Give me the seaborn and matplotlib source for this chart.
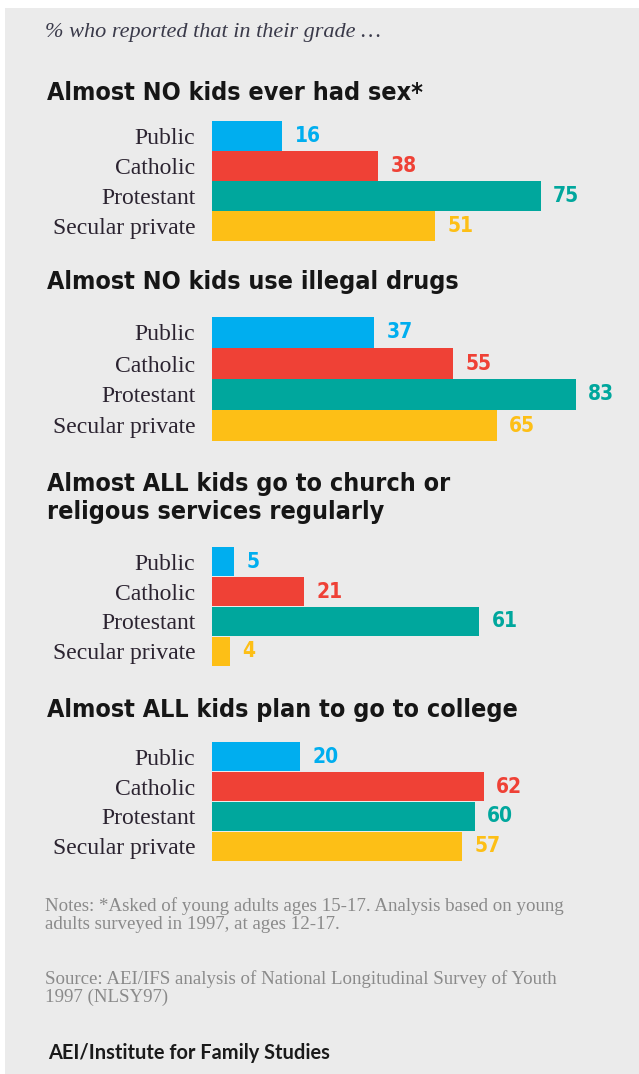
import matplotlib
matplotlib.use("Agg")
import matplotlib.pyplot as plt
from matplotlib.patches import Rectangle
from matplotlib import font_manager
from matplotlib.font_manager import FontProperties
import seaborn as sns
import pandas as pd
import os

# ---------------- data ----------------
categories = ["Public", "Catholic", "Protestant", "Secular private"]
had_sex = [16, 38, 75, 51]
illegal_drugs = [37, 55, 83, 65]
church = [5, 21, 61, 4]
college = [20, 62, 60, 57]

panel_titles = [
    "Almost NO kids ever had sex*",
    "Almost NO kids use illegal drugs",
    "Almost ALL kids go to church or\nreligous services regularly",
    "Almost ALL kids plan to go to college",
]
subtitle = "% who reported that in their grade \u2026"
notes = "Notes: *Asked of young adults ages 15-17. Analysis based on young\nadults surveyed in 1997, at ages 12-17."
source = "Source: AEI/IFS analysis of National Longitudinal Survey of Youth\n1997 (NLSY97)"
footer = "AEI/Institute for Family Studies"

colors = ["#00AEEF", "#EF4136", "#00A79D", "#FDBF16"]

# ---------------- fonts ----------------
sns.set_theme(style="white")
plt.rcParams["font.family"] = ["DejaVu Sans"]
serif = "Liberation Serif"

def find_condensed_bold():
    files = [f.fname for f in font_manager.fontManager.ttflist]
    prefs = ["LiberationSansNarrow-Bold", "DejaVuSansCondensed-Bold",
             "RobotoCondensed-Bold", "OpenSansCondensed-Bold", "Roboto_Condensed-Bold"]
    for p in prefs:
        for f in files:
            if os.path.basename(f).replace(" ", "").startswith(p):
                return f
    for f in files:
        b = os.path.basename(f)
        if ("Condensed" in b or "Narrow" in b) and "Bold" in b and "Oblique" not in b and "Italic" not in b:
            return f
    return None

cond = find_condensed_bold()
if cond:
    def bold_fp(size):
        return FontProperties(fname=cond, size=size)
    TITLE_SIZE, VALUE_SIZE = 18, 15
else:
    def bold_fp(size):
        return FontProperties(family="Roboto", weight="bold", size=size)
    TITLE_SIZE, VALUE_SIZE = 14.5, 14.5

W, H = 639, 1074
fig = plt.figure(figsize=(W / 100, H / 100), dpi=100)
fig.patch.set_facecolor("white")
fig.add_artist(Rectangle((5 / W, 0), 1 - 5 / W, 1 - 8 / H, transform=fig.transFigure,
                         facecolor="#ebebeb", edgecolor="none", zorder=-10))

def fy(y):
    return 1 - y / H

PX_PER_UNIT = 4.38
XMAX = 90
x0 = 212
panels = [(121, 241), (317, 441), (547, 666), (742, 861)]
title_y = [93, 282, 498, 710]
series = [had_sex, illegal_drugs, church, college]

for (top, bot), vals, title, ty in zip(panels, series, panel_titles, title_y):
    ax = fig.add_axes([x0 / W, fy(bot), XMAX * PX_PER_UNIT / W, (bot - top) / H])
    df = pd.DataFrame({"school": categories, "value": vals})
    sns.barplot(data=df, y="school", x="value", hue="school", palette=colors,
                orient="h", width=0.97, legend=False, ax=ax, linewidth=0,
                saturation=1)
    ax.set_xlim(0, XMAX)
    ax.set_ylim(3.5, -0.5)
    ax.set_facecolor("none")
    for s in ax.spines.values():
        s.set_visible(False)
    ax.set_xticks([])
    ax.set_xlabel("")
    ax.set_ylabel("")
    ax.tick_params(axis="y", length=0, pad=12)
    for lab in ax.get_yticklabels():
        lab.set_fontfamily(serif)
        lab.set_fontsize(17)
        lab.set_color("#2b2330")
    for i, (v, c) in enumerate(zip(vals, colors)):
        ax.annotate(str(v), (v, i), xytext=(9, 0), textcoords="offset points",
                    ha="left", va="center", fontproperties=bold_fp(VALUE_SIZE),
                    color=c)
    fig.text(47 / W, fy(ty), title, ha="left", va="center",
             fontproperties=bold_fp(TITLE_SIZE), color="#161616", linespacing=1.25)

fig.text(45 / W, fy(32), subtitle, ha="left", va="center", fontsize=16,
         family=serif, style="italic", color="#3a3a4a")
fig.text(45 / W, fy(915), notes, ha="left", va="center", fontsize=13.6,
         family=serif, color="#8a8a8a", linespacing=1.1)
fig.text(45 / W, fy(988), source, ha="left", va="center", fontsize=13.6,
         family=serif, color="#8a8a8a", linespacing=1.1)
fig.text(48 / W, fy(1053), footer, ha="left", va="center", fontsize=14.4,
         family="Lato", fontweight="bold", color="#1a1a1a")

fig.savefig("out.png", dpi=100, facecolor=fig.get_facecolor())
